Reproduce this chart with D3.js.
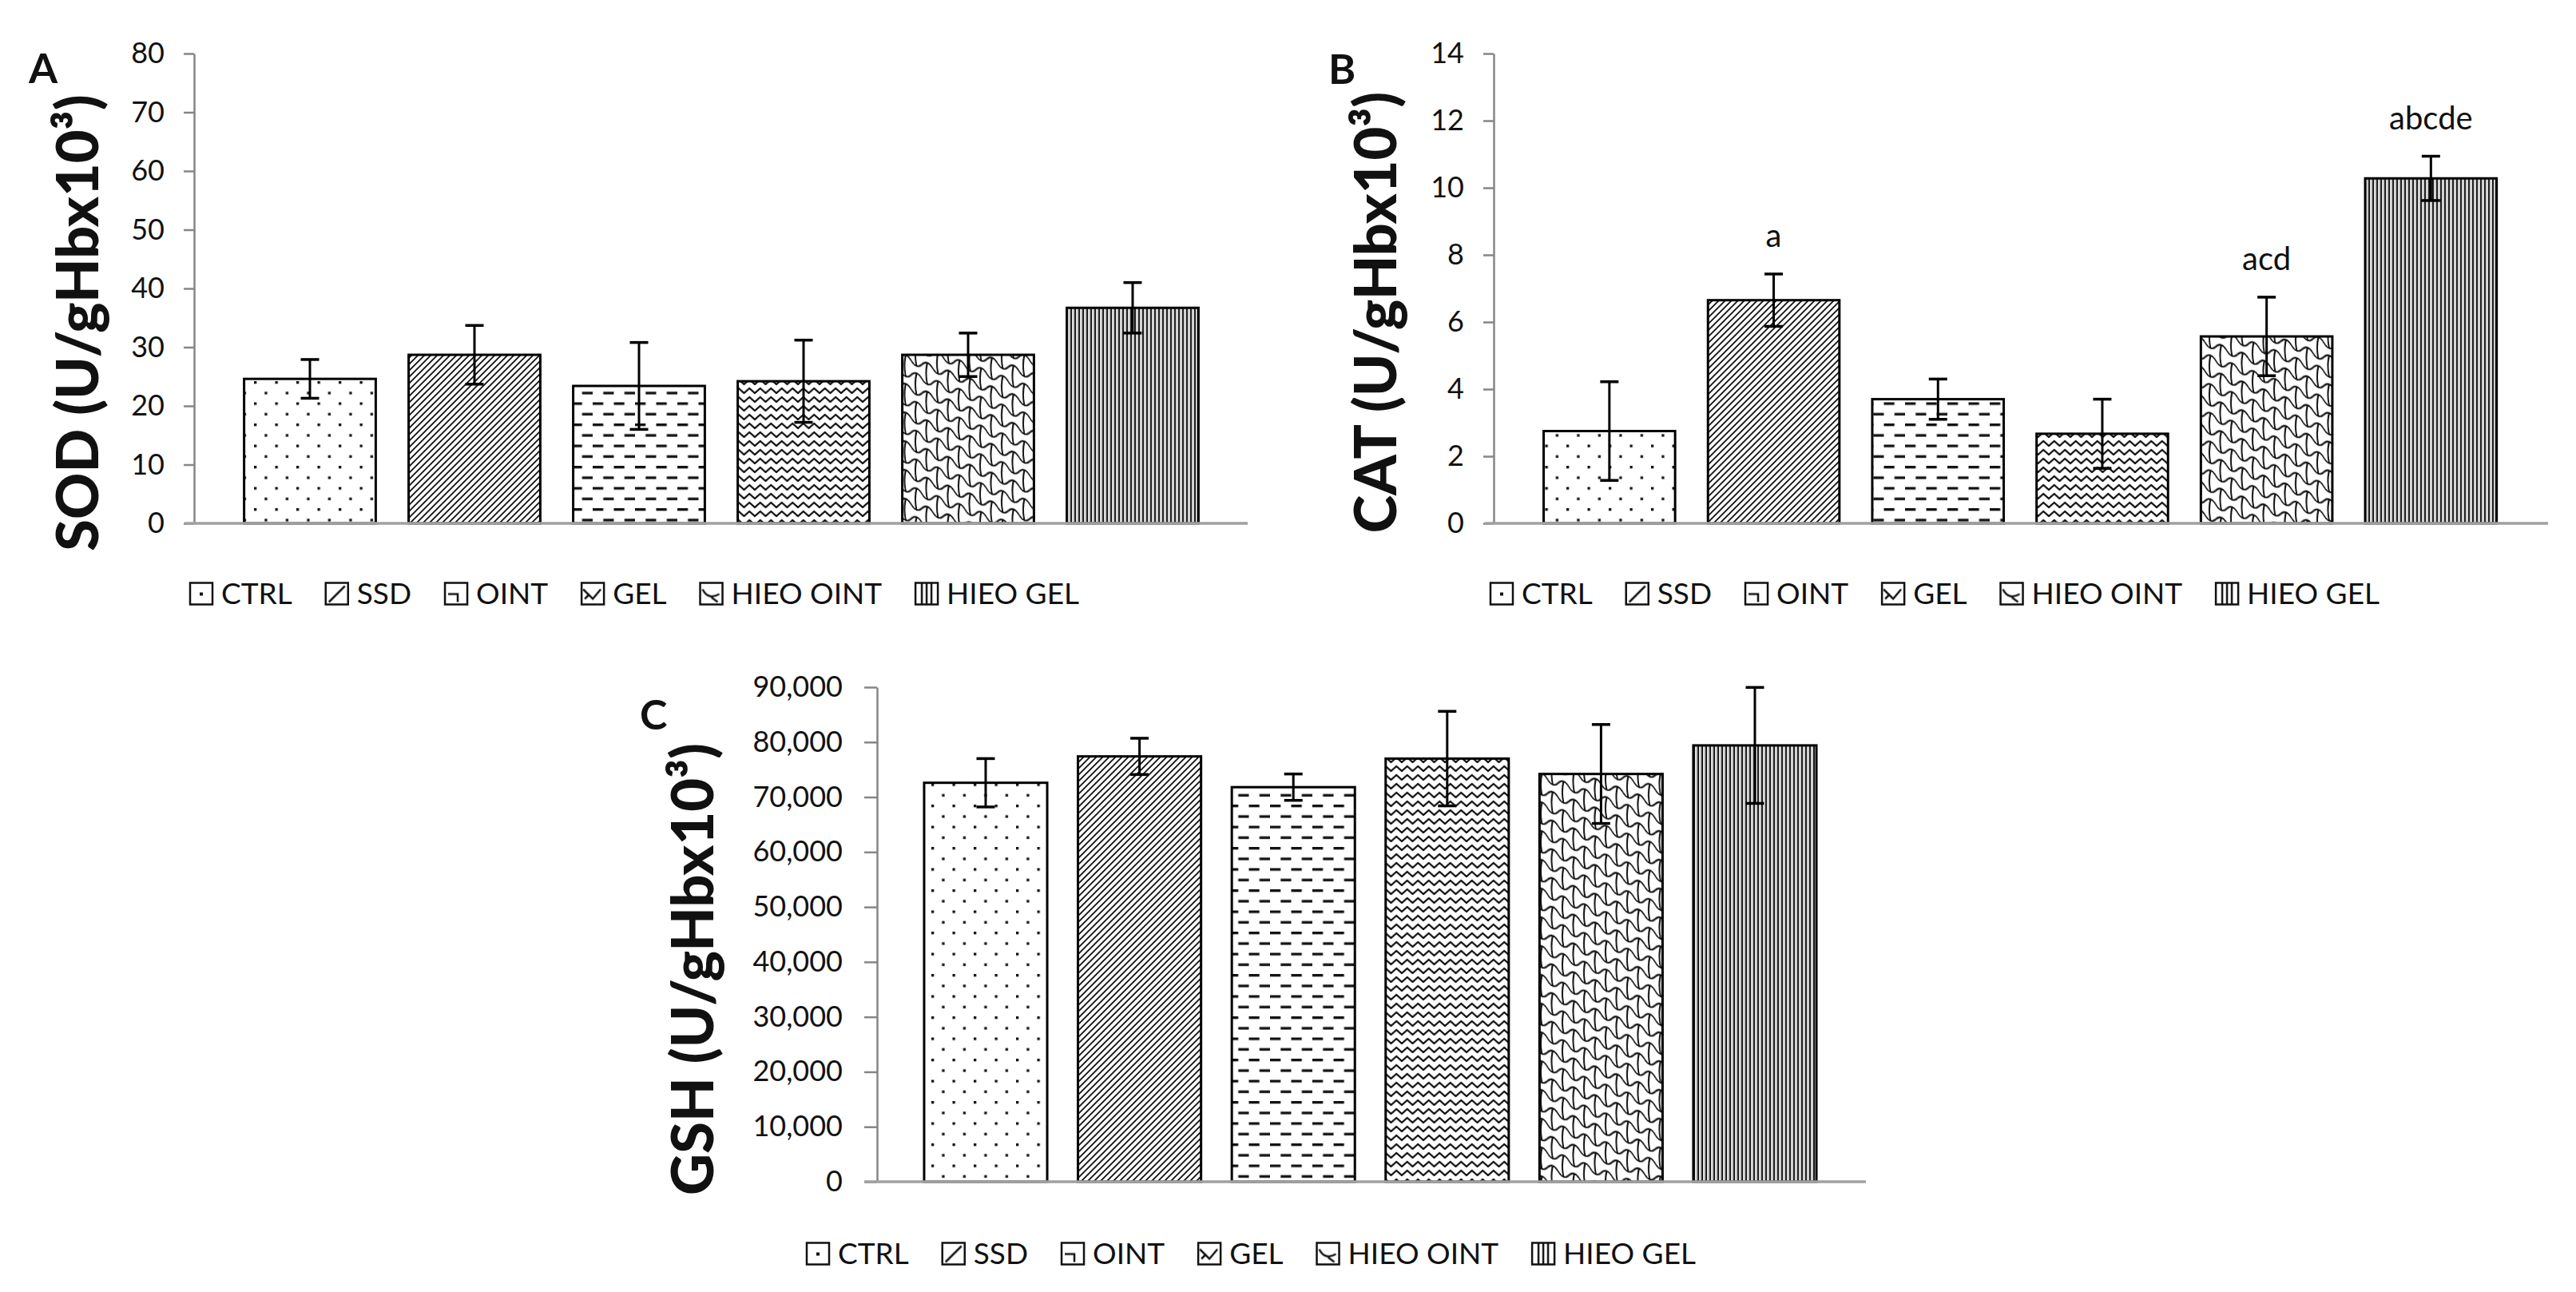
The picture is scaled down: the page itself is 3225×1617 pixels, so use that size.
<!DOCTYPE html>
<html>
<head>
<meta charset="utf-8">
<script src="https://cdn.jsdelivr.net/npm/d3@7"></script>
<style>
  body { margin: 0; background: #fff; }
  svg text { font-family: Lato, "Open Sans", sans-serif; fill: #111; }
</style>
</head>
<body>
<div id="chart"></div>
<script>
// treatment groups (same order in every panel)
const groups = ["CTRL", "SSD", "OINT", "GEL", "HIEO OINT", "HIEO GEL"];

// A - SOD
const sodMean = [24.6, 28.7, 23.4, 24.2, 28.7, 36.7];
const sodSd   = [3.3, 5.0, 7.4, 7.0, 3.7, 4.3];
const sodTicks = [0, 10, 20, 30, 40, 50, 60, 70, 80];

// B - CAT
const catMean = [2.75, 6.65, 3.7, 2.67, 5.57, 10.28];
const catSd   = [1.47, 0.78, 0.6, 1.03, 1.17, 0.66];
const catTicks = [0, 2, 4, 6, 8, 10, 12, 14];
const catLetters = ["", "a", "", "", "acd", "abcde"];

// C - GSH
const gshMean = [72600, 77400, 71800, 77000, 74200, 79400];
const gshSd   = [4400, 3300, 2400, 8600, 9000, 10550];
const gshTicks = [0, 10000, 20000, 30000, 40000, 50000, 60000, 70000, 80000, 90000];

const width = 3225, height = 1617;

const svg = d3.select("#chart")
  .append("svg")
  .attr("width", width)
  .attr("height", height)
  .attr("viewBox", [0, 0, width, height]);

svg.append("rect").attr("width", width).attr("height", height).attr("fill", "#fff");

// hatch fills, like the excel pattern fills
const defs = svg.append("defs");
function pattern(id, w, h, build, transform) {
  const p = defs.append("pattern")
    .attr("id", id)
    .attr("patternUnits", "userSpaceOnUse")
    .attr("width", w)
    .attr("height", h);
  if (transform) p.attr("patternTransform", transform);
  p.append("rect").attr("width", w).attr("height", h).attr("fill", "#fff");
  build(p);
}
const ink = "#111";

pattern("p-dots", 26.5, 26.5, p => {
  p.append("rect").attr("x", 0).attr("y", 0).attr("width", 3.3).attr("height", 3.3).attr("fill", ink);
  p.append("rect").attr("x", 13.25).attr("y", 13.25).attr("width", 3.3).attr("height", 3.3).attr("fill", ink);
});
pattern("p-diag", 8, 8, p => p.append("path")
  .attr("d", "M-1,1 L1,-1 M0,8 L8,0 M7,9 L9,7")
  .attr("stroke", ink).attr("stroke-width", 1.8));
pattern("p-dash", 26.5, 26.5, p => {
  p.append("rect").attr("x", 0).attr("y", 0).attr("width", 13.25).attr("height", 3.3).attr("fill", ink);
  p.append("rect").attr("x", 13.25).attr("y", 13.25).attr("width", 13.25).attr("height", 3.3).attr("fill", ink);
});
pattern("p-zig", 13.5, 11, p => p.append("path")
  .attr("d", "M-3.4,9.5 L0,8 L6.75,2 L13.5,8 L16.9,9.5")
  .attr("fill", "none").attr("stroke", ink).attr("stroke-width", 2.2));

// shingle: staggered bone-shaped cells, slanted down to the right
const a = 4.5;
const shingle = `M0,${-a} C6.75,${-a} 6.75,${a} 13.5,${a} C20.25,${a} 20.25,${-a} 27,${-a}` +
  ` M0,${18 + a} C6.75,${18 + a} 6.75,${18 - a} 13.5,${18 - a} C20.25,${18 - a} 20.25,${18 + a} 27,${18 + a}` +
  ` M0,${-a} Q-3,9 0,${18 + a} M13.5,${18 - a} Q10.5,27 13.5,${36 + a}`;
pattern("p-scale", 27, 36, p => {
  [-27, 0, 27].forEach(dx => [-36, 0, 36].forEach(dy => {
    p.append("path").attr("d", shingle)
      .attr("transform", `translate(${dx},${dy})`)
      .attr("fill", "none").attr("stroke", ink).attr("stroke-width", 2);
  }));
}, "skewY(20)");
pattern("p-vert", 5, 10, p => {
  p.append("rect").attr("width", 2).attr("height", 10).attr("fill", ink);
  p.append("rect").attr("x", 3).attr("width", 1).attr("height", 10).attr("fill", "#999");
});

// small versions for the legend keys
pattern("l-dots", 28, 28, p => p.append("rect").attr("x", 12).attr("y", 12).attr("width", 4).attr("height", 4).attr("fill", ink));
pattern("l-diag", 28, 28, p => p.append("path").attr("d", "M4,24 L24,4").attr("stroke", ink).attr("stroke-width", 2.5));
pattern("l-dash", 28, 28, p => p.append("path").attr("d", "M4,14 H16 V24").attr("fill", "none").attr("stroke", ink).attr("stroke-width", 2.5));
pattern("l-zig", 28, 28, p => p.append("path").attr("d", "M2,8 L14,20 L24,8 M4,20 L10,14").attr("fill", "none").attr("stroke", ink).attr("stroke-width", 2.5));
pattern("l-scale", 28, 28, p => p.append("path").attr("d", "M3,8 Q10,22 24,14 M14,18 L22,24").attr("fill", "none").attr("stroke", ink).attr("stroke-width", 2.5));
pattern("l-vert", 28, 28, p => p.append("path").attr("d", "M8,0 V28 M14,0 V28 M20,0 V28").attr("stroke", ink).attr("stroke-width", 2.5));

const barFills = ["p-dots", "p-diag", "p-dash", "p-zig", "p-scale", "p-vert"];
const keyFills = ["l-dots", "l-diag", "l-dash", "l-zig", "l-scale", "l-vert"];

// panel layout (pixel positions only)
const panels = [
  { label: "A", title: "SOD (U/gHbx10³)", mean: sodMean, sd: sodSd, ticks: sodTicks, fmt: d3.format("d"), letters: null,
    axisX: 243, y0: 655, y1: 67, bandStart: 285, step: 206, lineL: 12, lineR: 1319, tick: 13, pad: 24,
    labelX: 36, labelY: 104, titleX: 123, titleY: 404, legendX: 238, legendY: 743 },
  { label: "B", title: "CAT (U/gHbx10³)", mean: catMean, sd: catSd, ticks: catTicks, fmt: d3.format("d"), letters: catLetters,
    axisX: 1870, y0: 655, y1: 67, bandStart: 1912, step: 205.7, lineL: 11, lineR: 1320, tick: 13, pad: 24,
    labelX: 1663, labelY: 105, titleX: 1748, titleY: 391, legendX: 1866, legendY: 743 },
  { label: "C", title: "GSH (U/gHbx10³)", mean: gshMean, sd: gshSd, ticks: gshTicks, fmt: d3.format(","), letters: null,
    axisX: 1098, y0: 1479, y1: 860, bandStart: 1137.7, step: 192.6, lineL: 16, lineR: 1238, tick: 16, pad: 27,
    labelX: 801, labelY: 913, titleX: 893, titleY: 1213, legendX: 1010, legendY: 1569 }
];

panels.forEach(P => {
  const g = svg.append("g");

  const y = d3.scaleLinear()
    .domain([P.ticks[0], P.ticks[P.ticks.length - 1]])
    .range([P.y0, P.y1]);

  const x = d3.scaleBand()
    .domain(groups)
    .range([P.bandStart, P.bandStart + groups.length * P.step])
    .paddingInner(0.2)
    .paddingOuter(0.1);

  // y axis
  const ax = g.append("g")
    .attr("transform", `translate(${P.axisX},0)`)
    .call(d3.axisLeft(y).tickValues(P.ticks).tickFormat(P.fmt)
      .tickSize(P.tick).tickSizeOuter(0).tickPadding(P.pad));
  ax.select(".domain").attr("stroke", "#868686").attr("stroke-width", 2.5);
  ax.selectAll(".tick line").attr("stroke", "#868686").attr("stroke-width", 2.5);
  ax.selectAll(".tick text")
    .attr("font-family", "Lato, sans-serif")
    .attr("font-size", 36)
    .attr("fill", "#111");

  // bars
  g.append("g").selectAll("rect")
    .data(groups)
    .join("rect")
    .attr("x", d => x(d))
    .attr("y", (d, i) => y(P.mean[i]))
    .attr("width", x.bandwidth())
    .attr("height", (d, i) => y(0) - y(P.mean[i]))
    .attr("fill", (d, i) => `url(#${barFills[i]})`)
    .attr("stroke", "#000")
    .attr("stroke-width", 3);

  // error bars (mean +/- sd)
  const eb = g.append("g").attr("stroke", "#000").attr("stroke-width", 3);
  groups.forEach((d, i) => {
    const cx = x(d) + x.bandwidth() / 2;
    const hi = y(P.mean[i] + P.sd[i]), lo = y(P.mean[i] - P.sd[i]);
    eb.append("line").attr("x1", cx).attr("x2", cx).attr("y1", hi).attr("y2", lo);
    eb.append("line").attr("x1", cx - 11.5).attr("x2", cx + 11.5).attr("y1", hi).attr("y2", hi).attr("stroke-width", 3.5);
    eb.append("line").attr("x1", cx - 11.5).attr("x2", cx + 11.5).attr("y1", lo).attr("y2", lo).attr("stroke-width", 3.5);
  });

  // category axis line
  g.append("line")
    .attr("x1", P.axisX - P.lineL).attr("x2", P.axisX + P.lineR)
    .attr("y1", P.y0).attr("y2", P.y0)
    .attr("stroke", "#a0a0a0").attr("stroke-width", 3.5);

  // significance letters
  if (P.letters) {
    g.append("g").selectAll("text")
      .data(groups)
      .join("text")
      .attr("x", d => x(d) + x.bandwidth() / 2)
      .attr("y", (d, i) => y(P.mean[i] + P.sd[i]) - 34)
      .attr("text-anchor", "middle")
      .attr("font-size", 40)
      .text((d, i) => P.letters[i]);
  }

  // panel letter
  g.append("text")
    .attr("x", P.labelX).attr("y", P.labelY)
    .attr("font-size", 52).attr("font-weight", 700)
    .text(P.label);

  // y title
  g.append("text")
    .attr("transform", `translate(${P.titleX},${P.titleY}) rotate(-90)`)
    .attr("text-anchor", "middle")
    .attr("font-size", 72).attr("font-weight", 900)
    .text(P.title);

  // legend
  let lx = P.legendX;
  groups.forEach((name, i) => {
    const item = g.append("g").attr("transform", `translate(${lx},${P.legendY - 13.5})`);
    item.append("rect")
      .attr("width", 28).attr("height", 27)
      .attr("fill", `url(#${keyFills[i]})`)
      .attr("stroke", "#111").attr("stroke-width", 2.5);
    const t = item.append("text")
      .attr("x", 39).attr("y", 13.5).attr("dy", "0.36em")
      .attr("font-size", 37)
      .text(name);
    lx += 39 + t.node().getComputedTextLength() + 42;
  });
});
</script>
</body>
</html>
